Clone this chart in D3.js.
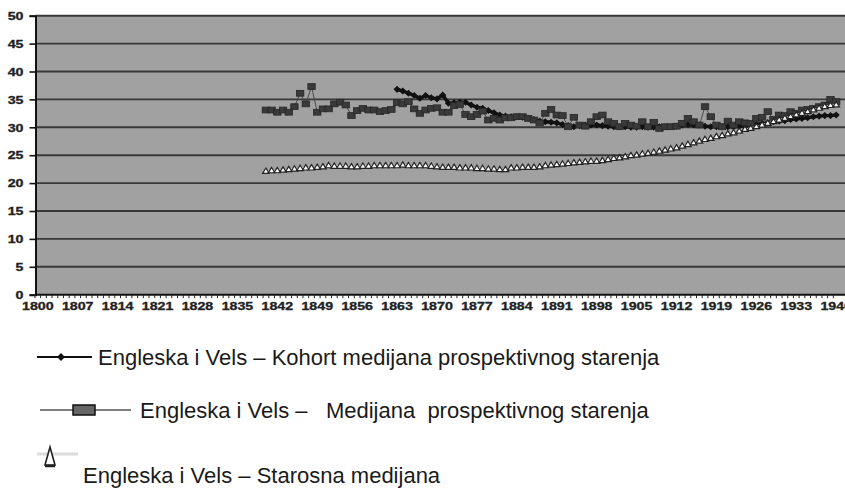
<!DOCTYPE html>
<html>
<head>
<meta charset="utf-8">
<script src="https://cdnjs.cloudflare.com/ajax/libs/d3/7.8.5/d3.min.js"></script>
<style>
  html, body { margin: 0; padding: 0; background: #fff; }
  svg { display: block; }
</style>
</head>
<body>
<svg id="chart" width="845" height="494"></svg>
<script>
// Category axis: one category per year
const firstYear = 1800;
const lastYear = 1940;
const yTicks = [0, 5, 10, 15, 20, 25, 30, 35, 40, 45, 50];
const xLabelYears = [1800, 1807, 1814, 1821, 1828, 1835, 1842, 1849, 1856, 1863, 1870,
                     1877, 1884, 1891, 1898, 1905, 1912, 1919, 1926, 1933, 1940];

// Engleska i Vels – Kohort medijana prospektivnog starenja (1863–1940)
const kohortStart = 1863;
const kohortValues = [
  36.8, 36.5, 36.1, 35.7, 35.2, 35.7, 35.3, 35.1, 35.8, 34.3,
  34.4, 34.5, 34.5, 34.0, 33.6, 33.4, 33.0, 32.6, 32.2, 32.0,
  31.9, 31.9, 31.8, 31.6, 31.4, 31.1, 31.0, 30.9, 30.8, 30.5,
  30.3, 30.1, 30.3, 30.4, 30.4, 30.4, 30.3, 30.2, 30.1, 30.1,
  30.1, 30.0, 30.0, 30.1, 30.0, 30.0, 30.1, 30.1, 30.1, 30.2,
  30.4, 30.5, 30.4, 30.4, 30.2, 30.1, 30.1, 30.1, 30.1, 30.1,
  30.2, 30.3, 30.4, 30.5, 30.7, 30.8, 31.0, 31.1, 31.2, 31.4,
  31.5, 31.6, 31.7, 31.9, 32.0, 32.1, 32.1, 32.2
];

// Engleska i Vels – Medijana prospektivnog starenja (1840–1940)
const medijanaStart = 1840;
const medijanaValues = [
  33.1, 33.1, 32.7, 33.1, 32.7, 33.7, 36.1, 34.2, 37.3, 32.7,
  33.3, 33.3, 34.2, 34.5, 34.0, 32.1, 33.0, 33.4, 33.1, 33.1,
  32.8, 33.0, 33.2, 34.4, 34.2, 34.6, 33.3, 32.5, 33.1, 33.4,
  33.5, 32.7, 32.7, 33.9, 34.1, 32.3, 31.9, 32.3, 32.9, 31.3,
  31.6, 31.3, 31.7, 31.7, 31.9, 31.9, 31.6, 31.3, 30.8, 32.5,
  33.2, 32.2, 32.1, 30.1, 31.8, 30.4, 30.2, 31.0, 31.9, 32.2,
  31.0, 30.7, 30.1, 30.7, 30.4, 30.2, 31.0, 30.1, 30.9, 29.8,
  30.1, 30.1, 30.2, 30.7, 31.6, 31.0, 30.4, 33.7, 31.9, 30.4,
  30.1, 31.1, 30.4, 31.0, 30.8, 30.7, 31.6, 31.8, 32.8, 31.4,
  32.2, 32.1, 32.8, 32.5, 33.1, 33.2, 33.4, 33.7, 34.0, 35.0,
  34.6
];

// Engleska i Vels – Starosna medijana (1840–1940)
const starosnaStart = 1840;
const starosnaValues = [
  22.2, 22.3, 22.3, 22.4, 22.5, 22.6, 22.7, 22.8, 22.8, 22.9,
  23.0, 23.2, 23.1, 23.1, 23.1, 23.0, 23.0, 23.1, 23.1, 23.2,
  23.2, 23.2, 23.2, 23.2, 23.3, 23.2, 23.2, 23.2, 23.2, 23.1,
  23.0, 22.9, 22.9, 22.9, 22.8, 22.8, 22.8, 22.7, 22.7, 22.6,
  22.6, 22.5, 22.5, 22.8, 22.8, 22.9, 22.9, 22.9, 23.0, 23.2,
  23.3, 23.4, 23.5, 23.6, 23.7, 23.8, 23.9, 24.0, 24.0, 24.1,
  24.3, 24.5, 24.6, 24.8, 25.0, 25.1, 25.3, 25.4, 25.6, 25.8,
  26.0, 26.2, 26.4, 26.7, 27.0, 27.3, 27.6, 27.9, 28.1, 28.4,
  28.6, 28.9, 29.1, 29.4, 29.7, 29.9, 30.2, 30.5, 30.8, 31.1,
  31.4, 31.7, 32.0, 32.3, 32.6, 32.9, 33.2, 33.5, 33.8, 34.0,
  34.1
];

const legendLabels = [
  "Engleska i Vels – Kohort medijana prospektivnog starenja",
  "Engleska i Vels –   Medijana  prospektivnog starenja",
  "Engleska i Vels – Starosna medijana"
];

const years = d3.range(firstYear, lastYear + 1);
const toPoints = (start, values) => values.map((v, i) => ({ year: start + i, value: v }));
const kohort = toPoints(kohortStart, kohortValues);
const medijana = toPoints(medijanaStart, medijanaValues);
const starosna = toPoints(starosnaStart, starosnaValues);

const svg = d3.select("#chart");
svg.append("rect").attr("width", 845).attr("height", 494).attr("fill", "#fff");

const plot = { left: 35.5, right: 845, top: 15.7, bottom: 294.7 };

const x = d3.scalePoint().domain(years).range([37.8, 836.2]);
const step = x.step();
const y = d3.scaleLinear().domain([0, 50]).range([plot.bottom, plot.top]);

// plot area
svg.append("rect")
  .attr("x", plot.left).attr("y", plot.top)
  .attr("width", plot.right - plot.left).attr("height", plot.bottom - plot.top)
  .attr("fill", "#a1a1a1");

// horizontal gridlines
svg.append("g").selectAll("line")
  .data(yTicks.filter(d => d > 0))
  .join("line")
  .attr("x1", plot.left).attr("x2", plot.right)
  .attr("y1", d => y(d)).attr("y2", d => y(d))
  .attr("stroke", "#383838").attr("stroke-width", 1.9);

const axisFont = "bold 10px 'Liberation Sans', Arial, sans-serif";

// y axis
const yAxis = d3.axisLeft(y).tickValues(yTicks).tickSize(6).tickFormat(d3.format("d"));
const gy = svg.append("g").attr("transform", `translate(${plot.left},0)`).call(yAxis);
gy.select(".domain").attr("stroke", "#111").attr("stroke-width", 2);
gy.selectAll(".tick line").attr("stroke", "#111").attr("stroke-width", 1.6);
gy.selectAll(".tick text").remove();
gy.selectAll(".tick").append("text")
  .attr("transform", "translate(-12,3.7) scale(1.42,1)")
  .attr("text-anchor", "end")
  .attr("fill", "#222").attr("stroke", "#222").attr("stroke-width", 0.3)
  .style("font", axisFont)
  .text(d => d);

// x axis: tick between every category, labels every seventh year
const gx = svg.append("g").attr("transform", `translate(0,${plot.bottom})`);
gx.append("line")
  .attr("x1", plot.left).attr("x2", plot.right)
  .attr("stroke", "#111").attr("stroke-width", 2);
gx.selectAll("line.tk")
  .data(years)
  .join("line").attr("class", "tk")
  .attr("x1", d => x(d) - step / 2).attr("x2", d => x(d) - step / 2)
  .attr("y1", 0).attr("y2", 3.5)
  .attr("stroke", "#222").attr("stroke-width", 1);
gx.selectAll("text")
  .data(xLabelYears)
  .join("text")
  .attr("transform", d => `translate(${x(d)},15.3) scale(1.42,1)`)
  .attr("text-anchor", "middle")
  .attr("fill", "#222").attr("stroke", "#222").attr("stroke-width", 0.3)
  .style("font", axisFont)
  .text(d => d);

// series 1: Kohort (black line with diamonds)
const line = d3.line().x(d => x(d.year)).y(d => y(d.value));
svg.append("path").datum(kohort)
  .attr("d", line).attr("fill", "none")
  .attr("stroke", "#111").attr("stroke-width", 3.4);
svg.append("g").selectAll("path")
  .data(kohort).join("path")
  .attr("d", d3.symbol(d3.symbolDiamond2, 32))
  .attr("transform", d => `translate(${x(d.year)},${y(d.value)})`)
  .attr("fill", "#111");

// series 2: Medijana (thin gray line with dark squares)
svg.append("path").datum(medijana)
  .attr("d", line).attr("fill", "none")
  .attr("stroke", "#4a4a4a").attr("stroke-width", 1);
svg.append("g").selectAll("rect")
  .data(medijana).join("rect")
  .attr("x", d => x(d.year) - 3.7).attr("y", d => y(d.value) - 2.9)
  .attr("width", 7.4).attr("height", 5.8)
  .attr("fill", "#3a3a3a").attr("stroke", "#262626").attr("stroke-width", 0.8);

// series 3: Starosna medijana (white triangles)
svg.append("path").datum(starosna)
  .attr("d", line).attr("fill", "none")
  .attr("stroke", "#e8e8e8").attr("stroke-width", 1);
const tri = "M0,-2.8L3.3,2.5L-3.3,2.5Z";
svg.append("g").selectAll("path")
  .data(starosna).join("path")
  .attr("d", tri)
  .attr("transform", d => `translate(${x(d.year)},${y(d.value)})`)
  .attr("fill", "#fff").attr("stroke", "#222").attr("stroke-width", 1.2);

// legend
const legendFont = "22px 'Liberation Sans', Arial, sans-serif";
const lg = svg.append("g");

lg.append("line").attr("x1", 37).attr("x2", 92).attr("y1", 357).attr("y2", 357)
  .attr("stroke", "#111").attr("stroke-width", 2);
lg.append("path").attr("d", d3.symbol(d3.symbolDiamond2, 40))
  .attr("transform", "translate(61,357)").attr("fill", "#111");
lg.append("text").attr("x", 98).attr("y", 365).attr("fill", "#1a1a1a")
  .style("font", legendFont).text(legendLabels[0]);

lg.append("line").attr("x1", 40).attr("x2", 131).attr("y1", 410).attr("y2", 410)
  .attr("stroke", "#555").attr("stroke-width", 1.5);
lg.append("rect").attr("x", 73).attr("y", 405).attr("width", 22).attr("height", 10)
  .attr("fill", "#666").attr("stroke", "#111").attr("stroke-width", 1.5);
lg.append("text").attr("x", 140).attr("y", 418).attr("fill", "#1a1a1a")
  .style("font", legendFont).style("white-space", "pre").text(legendLabels[1]);

lg.append("line").attr("x1", 37).attr("x2", 78).attr("y1", 454).attr("y2", 454)
  .attr("stroke", "#dcdcdc").attr("stroke-width", 3);
lg.append("path").attr("d", "M50,447L55,465L45,465Z")
  .attr("fill", "#fff").attr("stroke", "#222").attr("stroke-width", 1.6);
lg.append("line").attr("x1", 45).attr("x2", 55).attr("y1", 466).attr("y2", 466)
  .attr("stroke", "#222").attr("stroke-width", 2.5);
lg.append("text").attr("x", 83).attr("y", 483).attr("fill", "#1a1a1a")
  .style("font", legendFont).text(legendLabels[2]);
</script>
</body>
</html>
